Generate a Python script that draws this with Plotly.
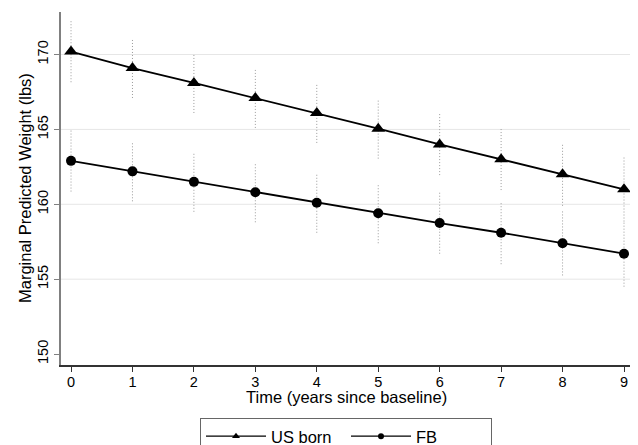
import plotly.graph_objects as go

years = [0, 1, 2, 3, 4, 5, 6, 7, 8, 9]
us_born = [170.2, 169.1, 168.1, 167.1, 166.1, 165.05, 164.0, 163.0, 162.0, 161.0]
us_half_ci = [2.05, 2.0, 2.0, 2.0, 2.0, 2.0, 2.05, 2.05, 2.1, 2.15]
fb = [162.9, 162.2, 161.5, 160.8, 160.1, 159.4, 158.75, 158.1, 157.4, 156.7]
fb_half_ci = [2.05, 2.0, 2.0, 2.0, 2.0, 2.0, 2.05, 2.1, 2.15, 2.2]
y_ticks = [150, 155, 160, 165, 170]
grid_vals = [155, 160, 165, 170]

FONT = "Liberation Sans, Arial, Helvetica, sans-serif"

fig = go.Figure()

def ci_trace(xs, ys, hw):
    bx, by = [], []
    for x, y, h in zip(xs, ys, hw):
        bx += [x, x, None]
        by += [y - h, y + h, None]
    return go.Scatter(x=bx, y=by, mode="lines", showlegend=False, hoverinfo="skip",
                      line=dict(color="#9a9a9a", width=1, dash="1px,2px"))

fig.add_trace(ci_trace(years, us_born, us_half_ci))
fig.add_trace(ci_trace(years, fb, fb_half_ci))

fig.add_trace(go.Scatter(x=years, y=us_born, mode="lines+markers", showlegend=False,
                         line=dict(color="black", width=1.8),
                         marker=dict(symbol="triangle-up", size=12, color="black")))
fig.add_trace(go.Scatter(x=years, y=fb, mode="lines+markers", showlegend=False,
                         line=dict(color="black", width=1.8),
                         marker=dict(symbol="circle", size=10, color="black")))

# legend-only entries
fig.add_trace(go.Scatter(x=[None], y=[None], mode="lines+markers", name="US born",
                         line=dict(color="black", width=1.2),
                         marker=dict(symbol="triangle-up", size=7, color="black")))
fig.add_trace(go.Scatter(x=[None], y=[None], mode="lines+markers", name="FB",
                         line=dict(color="black", width=1.2),
                         marker=dict(symbol="circle", size=6, color="black")))

shapes = []
for g in grid_vals:
    shapes.append(dict(type="line", xref="paper", x0=0, x1=1, yref="y", y0=g, y1=g,
                       line=dict(color="#e6e6e6", width=1), layer="below"))

annotations = [
    dict(text="Time (years since baseline)", xref="paper", yref="paper",
         x=0.5, y=-0.092, xanchor="center", yanchor="middle", showarrow=False,
         font=dict(size=16.5)),
    dict(text="Marginal Predicted Weight (lbs)", xref="paper", yref="paper",
         x=-0.064, y=0.5, xanchor="center", yanchor="middle", showarrow=False,
         textangle=-90, font=dict(size=16.5)),
]

fig.update_layout(
    width=630, height=437,
    margin=dict(l=53, r=7, t=4, b=80, autoexpand=False),
    paper_bgcolor="white", plot_bgcolor="white",
    font=dict(family=FONT, size=16, color="black"),
    shapes=shapes,
    annotations=annotations,
    showlegend=True,
    legend=dict(orientation="h", x=0.5, xanchor="center", y=-0.15, yanchor="top",
                bordercolor="#666666", borderwidth=1, font=dict(size=16.5),
                itemwidth=60, entrywidth=70, entrywidthmode="pixels",
                traceorder="normal"),
    xaxis=dict(range=[-0.163, 9.114], tickvals=years, showgrid=False, zeroline=False,
               showline=True, linecolor="#333333", linewidth=1.5,
               ticks="outside", ticklen=5, tickcolor="#333333", tickwidth=1.2,
               ticklabelstandoff=-2, tickfont=dict(size=14.5)),
    yaxis=dict(range=[149.27, 172.84], tickvals=y_ticks, showgrid=False, zeroline=False,
               showline=True, linecolor="#808080", linewidth=1.5,
               ticks="outside", ticklen=5, tickcolor="#808080", tickwidth=1.2,
               tickangle=-90, tickfont=dict(size=14.5)),
)

fig.write_html("out.html")
